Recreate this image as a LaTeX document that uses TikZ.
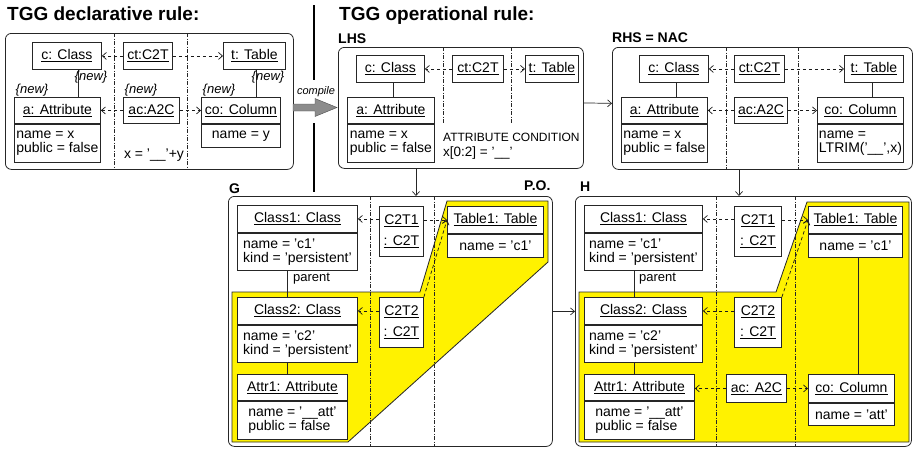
\documentclass[tikz,border=0pt]{standalone}
\usepackage{fontspec}
\setmainfont{Liberation Sans}
\usetikzlibrary{arrows.meta}

\newcommand{\boxfont}{\fontsize{14}{14}\selectfont}
\newcommand{\headfont}{\fontsize{19}{19}\selectfont\bfseries}
\newcommand{\partfont}{\fontsize{14}{14}\selectfont\bfseries}

\begin{document}
\begin{tikzpicture}[x=1pt, y=-1pt,
	>={Straight Barb[length=4pt,width=7pt]},
	hdr/.style={draw=black!85, line width=0.9pt, fill=white, anchor=north west, inner sep=0pt,
		minimum height=27pt, align=center, font=\boxfont},
	attrs/.style={draw=black!85, line width=0.9pt, fill=white, anchor=north west, inner sep=0pt,
		align=left, font=\boxfont},
	panel/.style={draw=black!85, line width=0.8pt, rounded corners=6pt, anchor=north west, inner sep=0pt},
	track/.style={black!85, line width=0.7pt, dash pattern=on 4pt off 1.5pt on 1pt off 1.5pt},
	trace/.style={->, black!90, line width=0.7pt, dash pattern=on 3.5pt off 2.5pt},
	link/.style={black!85, line width=0.7pt},
	newtag/.style={font=\fontsize{13}{13}\selectfont\itshape, inner sep=0pt},
	heading/.style={anchor=base west, inner sep=0pt, font=\headfont},
	partname/.style={anchor=base west, inner sep=0pt, font=\partfont},
	note/.style={anchor=base west, inner sep=0pt}]

	\useasboundingbox (0,0) rectangle (913,448);

	% declarative rule
	\node[heading] (declTitle) at (7,20) {TGG declarative rule:};
	\node[panel, minimum width=288pt, minimum height=136pt] (decl) at (5,33) {};
	\draw[track] (114,33) -- (114,169);
	\draw[track] (187,33) -- (187,169);

	\node[hdr, minimum width=69pt] (dClass) at (32,42) {\underline{c: Class}};
	\node[hdr, minimum width=49pt] (dLink) at (123,42) {\underline{ct:C2T}};
	\node[hdr, minimum width=62pt] (dTable) at (223,42) {\underline{t: Table}};
	\node[hdr, minimum width=86pt, minimum height=26pt] (dAttr) at (14,97)
		{\underline{a: Attribute}};
	\node[attrs, minimum width=86pt, minimum height=38pt] (dAttrB) at (dAttr.south west)
		{name = x\\public = false};
	\node[hdr, minimum width=56pt, minimum height=26pt] (dMap) at (123,97)
		{\underline{ac:A2C}};
	\node[hdr, minimum width=79pt, minimum height=26pt] (dCol) at (201,97)
		{\underline{co: Column}};
	\node[attrs, minimum width=79pt, minimum height=23pt] (dColB) at (dCol.south west)
		{name = y};
	\node[font=\boxfont, inner sep=0pt] (dCond) at (154,155) {x = '\_\_'+y};

	\draw[link] (dClass.south -| 78,0) -- (dAttr.north -| 78,0);
	\draw[link] (dTable.south -| 256,0) -- (dCol.north -| 256,0);
	\draw[trace] (dLink.west) -- (dClass.east);
	\draw[trace] (dLink.east) -- (dTable.west);
	\draw[trace] (dMap.west) -- (dAttr.east);
	\draw[trace] (dMap.east) -- (dCol.west);

	\node[newtag] at (91,77) {\{new\}};
	\node[newtag] at (268,77) {\{new\}};
	\node[newtag] at (32,90) {\{new\}};
	\node[newtag] at (141,90) {\{new\}};
	\node[newtag] at (219,90) {\{new\}};

	% compile step
	\draw[black!70, fill=black!45] (293,104) -- (315,104) -- (315,98.5) -- (337,107.5)
		-- (315,116.5) -- (315,111) -- (293,111) -- cycle;
	\node[font=\fontsize{11}{11}\selectfont\itshape, inner sep=0pt] (compile) at (316,92) {compile};
	\draw[line width=2.5pt] (314,5) -- (314,80) (314,123) -- (314,192);

	% operational rule: LHS
	\node[heading] (operTitle) at (339,20) {TGG operational rule:};
	\node[partname] at (338,43) {LHS};
	\node[panel, minimum width=245pt, minimum height=121pt] (lhs) at (338,47) {};
	\draw[track] (443,47) -- (443,123);
	\draw[track] (511,47) -- (511,123);

	\node[hdr, minimum width=68pt] (lClass) at (356,55) {\underline{c: Class}};
	\node[hdr, minimum width=51pt] (lLink) at (452,55) {\underline{ct:C2T}};
	\node[hdr, minimum width=53pt] (lTable) at (525,55) {\underline{t: Table}};
	\node[hdr, minimum width=87pt, minimum height=26pt] (lAttr) at (347,97)
		{\underline{a: Attribute}};
	\node[attrs, minimum width=87pt, minimum height=38pt] (lAttrB) at (lAttr.south west)
		{name = x\\public = false};
	\node[note, font=\fontsize{12}{12}\selectfont] (lCondHead) at (443,141) {ATTRIBUTE CONDITION};
	\node[note, font=\fontsize{13.5}{13.5}\selectfont] (lCond) at (443,156) {x[0:2] = '\_\_'};

	\draw[link] (lClass.south -| 393,0) -- (lAttr.north -| 393,0);
	\draw[trace] (lLink.west) -- (lClass.east);
	\draw[trace] (lLink.east) -- (lTable.west);

	% operational rule: RHS
	\node[partname] at (612,42) {RHS = NAC};
	\node[panel, minimum width=300pt, minimum height=122pt] (rhs) at (612,47) {};
	\draw[track] (726,47) -- (726,169);
	\draw[track] (798,47) -- (798,169);

	\node[hdr, minimum width=69pt] (rClass) at (639,55) {\underline{c: Class}};
	\node[hdr, minimum width=50pt] (rLink) at (734,55) {\underline{ct:C2T}};
	\node[hdr, minimum width=59pt] (rTable) at (844,55) {\underline{t: Table}};
	\node[hdr, minimum width=86pt, minimum height=26pt] (rAttr) at (621,97)
		{\underline{a: Attribute}};
	\node[attrs, minimum width=86pt, minimum height=38pt] (rAttrB) at (rAttr.south west)
		{name = x\\public = false};
	\node[hdr, minimum width=53pt, minimum height=26pt] (rMap) at (734,97)
		{\underline{ac:A2C}};
	\node[hdr, minimum width=86pt, minimum height=26pt] (rCol) at (817,97)
		{\underline{co: Column}};
	\node[attrs, minimum width=86pt, minimum height=38pt] (rColB) at (rCol.south west)
		{name =\\LTRIM('\_\_',x)};

	\draw[link] (rClass.south -| 676,0) -- (rAttr.north -| 676,0);
	\draw[link] (rTable.south -| 872,0) -- (rCol.north -| 872,0);
	\draw[trace] (rLink.west) -- (rClass.east);
	\draw[trace] (rLink.east) -- (rTable.west);
	\draw[trace] (rMap.west) -- (rAttr.east);
	\draw[trace] (rMap.east) -- (rCol.west);

	\draw[->, link] ([yshift=5pt]lhs.east) -- ([yshift=5pt]rhs.west);

	% host graph G
	\node[partname] at (229,193) {G};
	\node[partname] at (524,190) {P.O.};
	\node[panel, minimum width=324pt, minimum height=250pt] (gGraph) at (228,196) {};
	\draw[black!85, line width=0.8pt, fill=yellow] (232,292) -- (420,292) -- (447,201) -- (548,201)
		-- (548,262) -- (348,442) -- (232,442) -- cycle;
	\draw[track] (370,196) -- (370,446);
	\draw[track] (434,196) -- (434,446);

	\node[hdr, minimum width=120pt] (gClassA) at (237,205) {\underline{Class1: Class}};
	\node[attrs, minimum width=120pt, minimum height=37pt] (gClassAB) at (gClassA.south west)
		{name = 'c1'\\kind = 'persistent'};
	\node[hdr, minimum width=120pt] (gClassB) at (237,297) {\underline{Class2: Class}};
	\node[attrs, minimum width=120pt, minimum height=37pt] (gClassBB) at (gClassB.south west)
		{name = 'c2'\\kind = 'persistent'};
	\node[hdr, minimum width=110pt, minimum height=26pt] (gAttr) at (237,374)
		{\underline{Attr1: Attribute}};
	\node[attrs, minimum width=110pt, minimum height=38pt] (gAttrB) at (gAttr.south west)
		{name = '\_\_att'\\public = false};
	\node[hdr, minimum width=44pt, minimum height=50pt] (gLinkA) at (379,206)
		{\underline{C2T1}\\[7pt]\underline{: C2T}};
	\node[hdr, minimum width=44pt, minimum height=50pt] (gLinkB) at (379,297)
		{\underline{C2T2}\\[7pt]\underline{: C2T}};
	\node[hdr, minimum width=96pt] (gTable) at (447,206) {\underline{Table1: Table}};
	\node[attrs, minimum width=96pt, minimum height=23pt] (gTableB) at (gTable.south west)
		{name = 'c1'};
	\node[anchor=west, inner sep=0pt, font=\fontsize{13}{13}\selectfont] (gParent) at (293,279) {parent};

	\draw[link] (gClassAB.south -| 287,0) -- (gClassB.north -| 287,0);
	\draw[link] (gClassBB.south -| 287,0) -- (gAttr.north -| 287,0);
	\draw[trace] (gLinkA.west |- gClassA.east) -- (gClassA.east);
	\draw[trace] (gLinkA.east |- gTable.west) -- (gTable.west);
	\draw[trace] (gLinkB.west |- gClassB.east) -- (gClassB.east);
	\draw[trace] (gLinkB.north east) -- (gTable.west);

	% result graph H
	\node[partname] at (580,191) {H};
	\node[panel, minimum width=336pt, minimum height=250pt] (hGraph) at (575,196) {};
	\draw[black!85, line width=0.8pt, fill=yellow] (579,292) -- (776,292) -- (807,202) -- (909,202)
		-- (909,442) -- (579,442) -- cycle;
	\draw[track] (716,196) -- (716,446);
	\draw[track] (795,196) -- (795,446);

	\node[hdr, minimum width=118pt] (hClassA) at (584,205) {\underline{Class1: Class}};
	\node[attrs, minimum width=118pt, minimum height=37pt] (hClassAB) at (hClassA.south west)
		{name = 'c1'\\kind = 'persistent'};
	\node[hdr, minimum width=118pt] (hClassB) at (584,297) {\underline{Class2: Class}};
	\node[attrs, minimum width=118pt, minimum height=37pt] (hClassBB) at (hClassB.south west)
		{name = 'c2'\\kind = 'persistent'};
	\node[hdr, minimum width=110pt, minimum height=26pt] (hAttr) at (584,374)
		{\underline{Attr1: Attribute}};
	\node[attrs, minimum width=110pt, minimum height=38pt] (hAttrB) at (hAttr.south west)
		{name = '\_\_att'\\public = false};
	\node[hdr, minimum width=47pt, minimum height=50pt] (hLinkA) at (734,206)
		{\underline{C2T1}\\[7pt]\underline{: C2T}};
	\node[hdr, minimum width=47pt, minimum height=50pt] (hLinkB) at (734,297)
		{\underline{C2T2}\\[7pt]\underline{: C2T}};
	\node[hdr, minimum width=60pt, minimum height=28pt] (hMap) at (726,374) {\underline{ac: A2C}};
	\node[hdr, minimum width=94pt] (hTable) at (808,206) {\underline{Table1: Table}};
	\node[attrs, minimum width=94pt, minimum height=23pt] (hTableB) at (hTable.south west)
		{name = 'c1'};
	\node[hdr, minimum width=86pt, minimum height=28pt] (hCol) at (808,374) {\underline{co: Column}};
	\node[attrs, minimum width=86pt, minimum height=22pt] (hColB) at (hCol.south west)
		{name = 'att'};
	\node[anchor=west, inner sep=0pt, font=\fontsize{13}{13}\selectfont] (hParent) at (639,279) {parent};

	\draw[link] (hClassAB.south -| 634,0) -- (hClassB.north -| 634,0);
	\draw[link] (hClassBB.south -| 634,0) -- (hAttr.north -| 634,0);
	\draw[link] (hTableB.south -| 858,0) -- (hCol.north -| 858,0);
	\draw[trace] (hLinkA.west |- hClassA.east) -- (hClassA.east);
	\draw[trace] (hLinkA.east |- hTable.west) -- (hTable.west);
	\draw[trace] (hLinkB.west |- hClassB.east) -- (hClassB.east);
	\draw[trace] (hLinkB.north east) -- (hTable.west);
	\draw[trace] (hMap.west) -- (hMap.west -| hAttr.east);
	\draw[trace] (hMap.east) -- (hCol.west);

	% rule application
	\draw[->, link] (lhs.south -| 416,0) -- (gGraph.north -| 416,0);
	\draw[->, link] (rhs.south -| 739,0) -- (hGraph.north -| 739,0);
	\draw[->, link] ([yshift=10pt]gGraph.east) -- ([yshift=10pt]hGraph.west);
\end{tikzpicture}
\end{document}
